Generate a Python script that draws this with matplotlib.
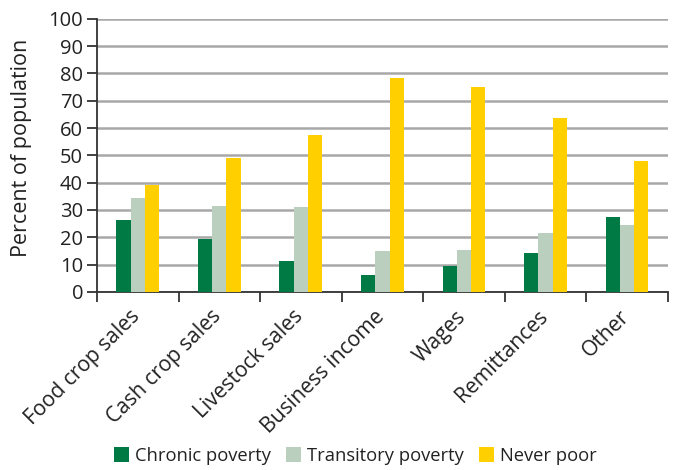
import matplotlib
matplotlib.use("Agg")
import matplotlib.pyplot as plt
import numpy as np

categories = ["Food crop sales", "Cash crop sales", "Livestock sales",
              "Business income", "Wages", "Remittances", "Other"]
chronic = [26.4, 19.4, 11.4, 6.1, 9.4, 14.2, 27.4]
transitory = [34.4, 31.5, 31.1, 14.9, 15.3, 21.5, 24.5]
never_poor = [39.2, 49.1, 57.5, 78.4, 75.1, 63.7, 48.0]
series_names = ["Chronic poverty", "Transitory poverty", "Never poor"]
y_ticks = list(range(0, 101, 10))

colors = ["#007A45", "#BBCFBF", "#FFCF00"]
text_color = "#222222"

plt.rcParams["font.family"] = ["Open Sans", "DejaVu Sans"]

fig = plt.figure(figsize=(6.78, 4.70), dpi=100)
ax = fig.add_axes([0.143, 0.379, 0.842, 0.581])

x = np.arange(len(categories))
width = 0.175
for i, (vals, name) in enumerate(zip([chronic, transitory, never_poor], series_names)):
    ax.bar(x + (i - 1) * width, vals, width=width, color=colors[i], label=name,
           zorder=3, linewidth=0)

ax.set_xlim(-0.5, len(categories) - 0.5)
ax.set_ylim(0, 100)
ax.set_yticks(y_ticks)
ax.yaxis.grid(True, color="#A8A8A8", linewidth=1.8, zorder=0)
ax.set_axisbelow(True)

# category boundaries carry the x ticks
ax.set_xticks(np.arange(len(categories) + 1) - 0.5)
ax.set_xticklabels([])
ax.tick_params(axis="x", length=7, width=1.3, color="#333333", direction="out")
ax.tick_params(axis="y", length=7, width=1.3, color="#333333", direction="out",
               labelsize=14.5, labelcolor=text_color, pad=3)

for xi, cat in zip(x, categories):
    ax.text(xi - 0.1, -5.2, cat, rotation=45, ha="right", va="top",
            rotation_mode="anchor", fontsize=15.2, color=text_color)

for s in ["top", "right"]:
    ax.spines[s].set_visible(False)
for s in ["left", "bottom"]:
    ax.spines[s].set_linewidth(1.3)
    ax.spines[s].set_color("#333333")

ax.set_ylabel("Percent of population", fontsize=15.5, color=text_color)
ax.yaxis.set_label_coords(-0.114, 0.529)

fig.legend(loc="center", bbox_to_anchor=(0.524, 0.03), ncol=3, frameon=False,
           fontsize=13.2, labelcolor=text_color, handlelength=0.82, handleheight=0.82,
           handletextpad=0.35, columnspacing=0.8)

fig.savefig("out.png", dpi=100)
